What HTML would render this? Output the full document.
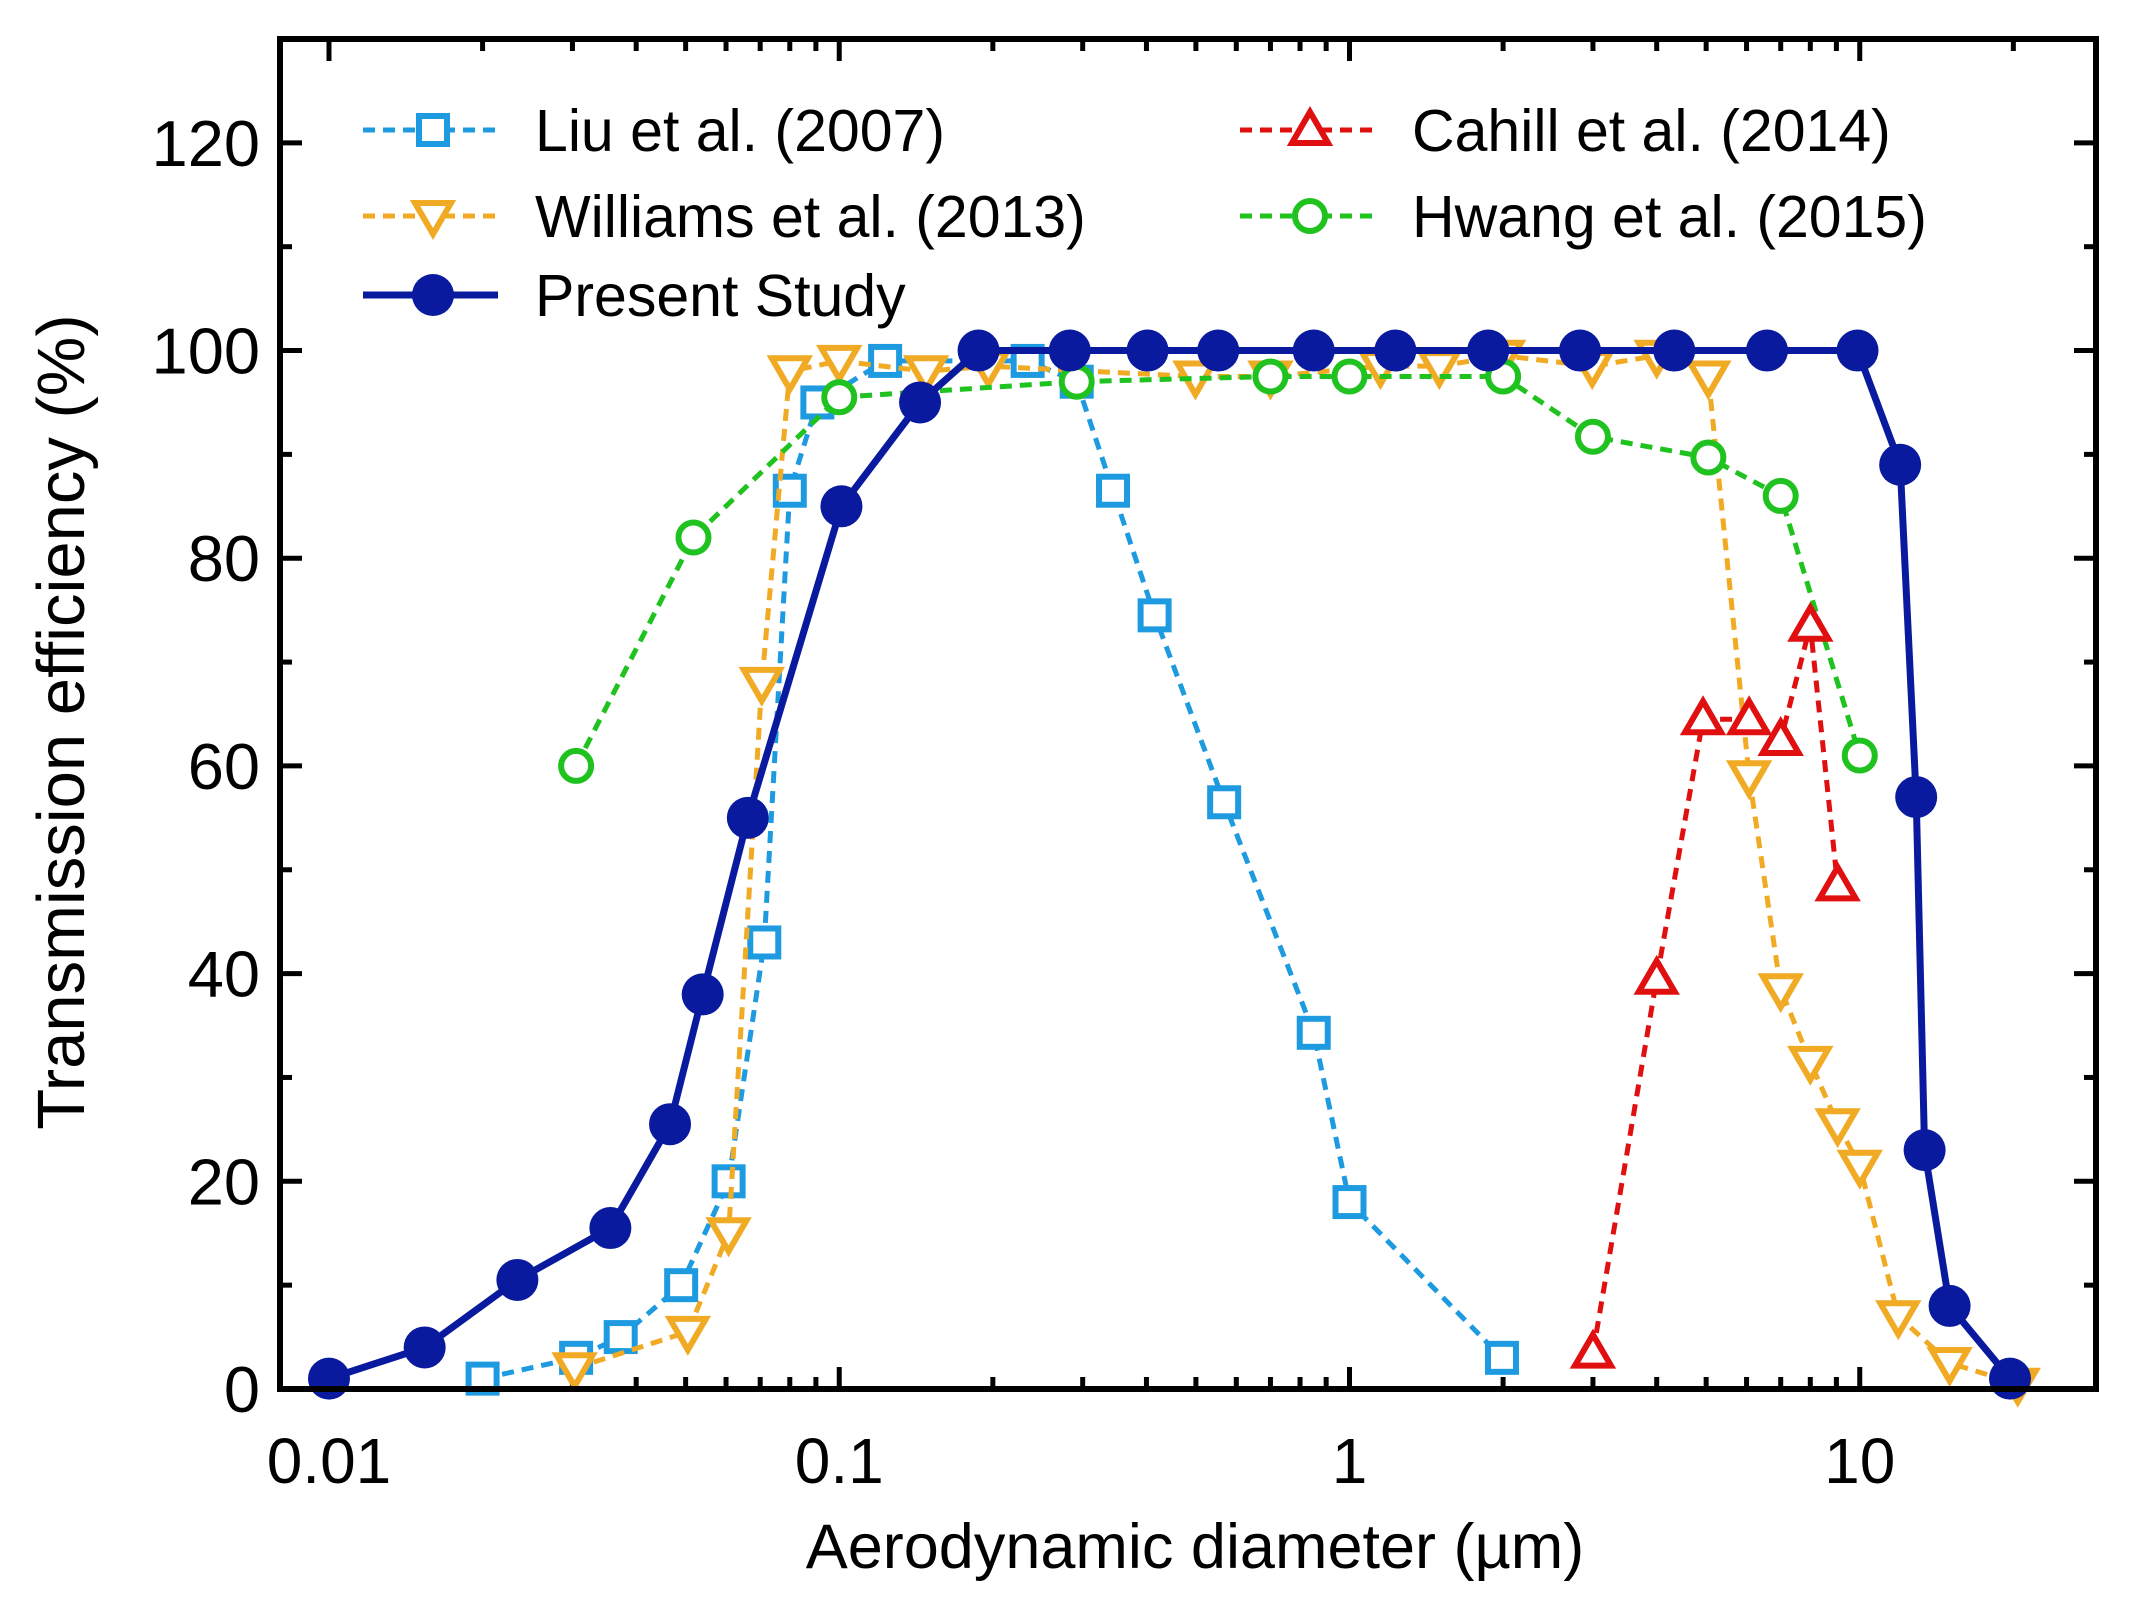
<!DOCTYPE html>
<html><head><meta charset="utf-8"><style>
html,body{margin:0;padding:0;background:#fff}
svg{display:block}
text{font-family:"Liberation Sans",Arial,sans-serif;fill:#000}
</style></head><body>
<svg id="chart" width="2138" height="1603" viewBox="0 0 2138 1603" xmlns="http://www.w3.org/2000/svg">
<g id="grid-ticks"></g>
<g id="series"></g>
<rect x="280" y="39" width="1816" height="1350" fill="none" stroke="#000" stroke-width="6"/>
<g id="labels"></g>
<text x="1195" y="1568" font-size="63" text-anchor="middle">Aerodynamic diameter (µm)</text>
<text transform="translate(84,722) rotate(-90)" font-size="67" text-anchor="middle">Transmission efficiency (%)</text>
<g id="legend"></g>
</svg>
<script>
const xTicks=[0.01,0.1,1,10];
const xTickLabels=["0.01","0.1","1","10"];
const yTicks=[0,20,40,60,80,100,120];
const yTickLabels=["0","20","40","60","80","100","120"];

const liuX=[0.02,0.0305,0.0373,0.049,0.0607,0.0713,0.080,0.0906,0.123,0.234,0.292,0.344,0.415,0.568,0.851,1.0,1.99];
const liuY=[1,3,5,10,20,43,86.5,95,99,99,97,86.5,74.5,56.5,34.3,18,3];
const willX=[0.0303,0.0505,0.0607,0.0705,0.08,0.1,0.148,0.196,0.499,0.7,1.15,1.5,2.0,2.99,4.0,5.05,6.07,7.0,8.0,9.05,10,11.9,15,20.4];
const willY=[2,5.5,15,68,98,99,98,98.5,97.5,97.5,98.5,98.5,99.5,98.5,99.5,97.5,59,38.5,31.5,25.5,21.5,7,2.5,0.5];
const cahillX=[3.0,4.0,4.93,6.07,7.0,8.0,9.05];
const cahillY=[3.5,39.5,64.5,64.5,62.5,73.5,48.5];
const hwangX=[0.0305,0.0518,0.1,0.292,0.7,1.0,2.0,3.0,5.05,7.0,10];
const hwangY=[60,82,95.5,97,97.5,97.5,97.5,91.7,89.7,86,61];
const presX=[0.01,0.0154,0.0234,0.0356,0.0466,0.054,0.0662,0.101,0.144,0.1875,0.283,0.402,0.553,0.851,1.23,1.87,2.83,4.33,6.58,9.9,12.0,12.9,13.4,15.0,19.7];
const presY=[1,4,10.5,15.5,25.5,38,55,85,95,100,100,100,100,100,100,100,100,100,100,100,89,57,23,8,1];

const X0=280,X1=2096,Y0=1389,Y1=39;
const LMIN=-2.096,LMAX=1.463,YMAX=130;
function sx(v){return X0+(Math.log10(v)-LMIN)/(LMAX-LMIN)*(X1-X0);}
function sy(v){return Y0-v/YMAX*(Y0-Y1);}
const NS="http://www.w3.org/2000/svg";
function mk(tag,attrs,parent){const e=document.createElementNS(NS,tag);for(const k in attrs)e.setAttribute(k,attrs[k]);parent.appendChild(e);return e;}

const tg=document.getElementById('grid-ticks');
const lg=document.getElementById('labels');
for(let d=-2;d<=1;d++){for(let m=1;m<=9;m++){const v=m*Math.pow(10,d);const l=Math.log10(v);if(l<LMIN||l>LMAX)continue;const px=sx(v);const len=m===1?22:12;
const t1=mk('line',{x1:px,y1:Y0,x2:px,y2:Y0-len,stroke:'#000','stroke-width':5},tg);


const t2=mk('line',{x1:px,y1:Y1,x2:px,y2:Y1+len,stroke:'#000','stroke-width':5},tg);

}}
xTicks.forEach((v,i)=>{const t=mk('text',{x:sx(v),y:1483,'font-size':64,'text-anchor':'middle'},lg);t.textContent=xTickLabels[i];

});
for(let v=0;v<=130;v+=10){const py=sy(v);const len=v%20===0?22:12;
const t1=mk('line',{x1:X0,y1:py,x2:X0+len,y2:py,stroke:'#000','stroke-width':5},tg);


const t2=mk('line',{x1:X1,y1:py,x2:X1-len,y2:py,stroke:'#000','stroke-width':5},tg);

}
yTicks.forEach((v,i)=>{const t=mk('text',{x:260,y:sy(v)+23,'font-size':65,'text-anchor':'end'},lg);t.textContent=yTickLabels[i];

});

function marker(type,cx,cy,color,parent){let e;
if(type==='square'){e=mk('rect',{x:cx-14,y:cy-14,width:28,height:28,fill:'#fff',stroke:color,'stroke-width':6},parent);}
else if(type==='down'){e=mk('polygon',{points:`${cx-18},${cy-13} ${cx+18},${cy-13} ${cx},${cy+18}`,fill:'#fff',stroke:color,'stroke-width':6},parent);}
else if(type==='up'){e=mk('polygon',{points:`${cx-18},${cy+13} ${cx+18},${cy+13} ${cx},${cy-18}`,fill:'#fff',stroke:color,'stroke-width':6},parent);}
else if(type==='circle'){e=mk('circle',{cx:cx,cy:cy,r:15,fill:'#fff',stroke:color,'stroke-width':6},parent);}
else {e=mk('circle',{cx:cx,cy:cy,r:21,fill:color},parent);}
return e;}

const sg=document.getElementById('series');
const series=[
 {name:'liu',xs:liuX,ys:liuY,color:'#1e9be0',type:'square',dash:'12,8',w:5},
 {name:'williams',xs:willX,ys:willY,color:'#f0aa24',type:'down',dash:'12,8',w:5},
 {name:'hwang',xs:hwangX,ys:hwangY,color:'#1fc21f',type:'circle',dash:'12,8',w:5},
 {name:'cahill',xs:cahillX,ys:cahillY,color:'#e01010',type:'up',dash:'12,8',w:5},
 {name:'present-study',xs:presX,ys:presY,color:'#0a1a9e',type:'filled',dash:'',w:7}
];
series.forEach(s=>{const g=mk('g',{},sg);


const pts=s.xs.map((x,i)=>sx(x)+','+sy(s.ys[i])).join(' ');
const pl=mk('polyline',{points:pts,fill:'none',stroke:s.color,'stroke-width':s.w,'stroke-dasharray':s.dash},g);


s.xs.forEach((x,i)=>{const m=marker(s.type,sx(x),sy(s.ys[i]),s.color,g);

});});

const leg=document.getElementById('legend');
const entries=[
 {label:'Liu et al. (2007)',s:0,x:363,y:130},
 {label:'Williams et al. (2013)',s:1,x:363,y:216},
 {label:'Present Study',s:4,x:363,y:295},
 {label:'Cahill et al. (2014)',s:3,x:1240,y:130},
 {label:'Hwang et al. (2015)',s:2,x:1240,y:216}
];
entries.forEach(en=>{const s=series[en.s];const g=mk('g',{},leg);


mk('line',{x1:en.x,y1:en.y,x2:en.x+135,y2:en.y,stroke:s.color,'stroke-width':s.w,'stroke-dasharray':s.dash},g);
marker(s.type,en.x+70,en.y,s.color,g);
const t=mk('text',{x:en.x+172,y:en.y+21,'font-size':59},g);t.textContent=en.label;});
</script>
</body></html>
